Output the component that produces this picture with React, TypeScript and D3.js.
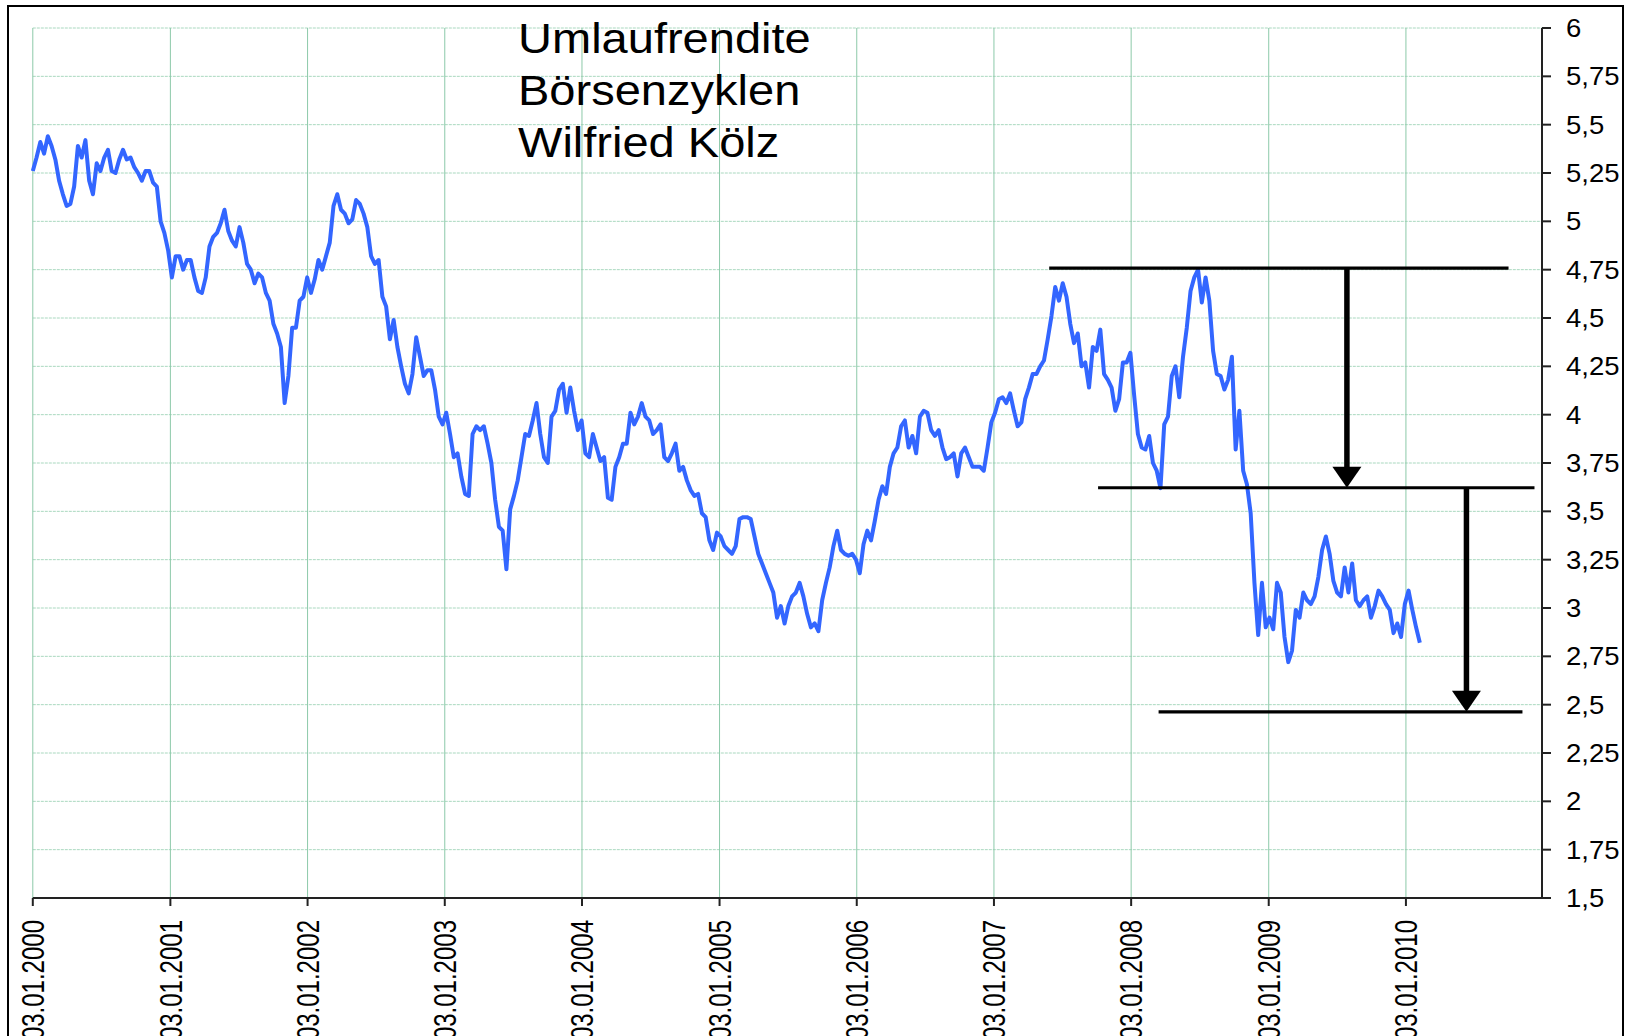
import React from "react";
import * as d3 from "d3";

// ---- data (10-day samples starting 03.01.2000) ----
const START_DATE = "2000-01-03";
const STEP_DAYS = 10;

const yield2000 = [5.26, 5.33, 5.41, 5.35, 5.44, 5.39, 5.32, 5.21, 5.14, 5.08, 5.09, 5.18, 5.39, 5.33, 5.42, 5.21, 5.14, 5.3, 5.26, 5.33, 5.37, 5.26, 5.25, 5.32, 5.37, 5.32, 5.33, 5.28, 5.25, 5.21, 5.26, 5.26, 5.2, 5.18, 5.0, 4.94, 4.85];
const yield2001 = [4.71, 4.82, 4.82, 4.75, 4.8, 4.8, 4.71, 4.64, 4.63, 4.71, 4.87, 4.92, 4.94, 4.99, 5.06, 4.95, 4.9, 4.87, 4.97, 4.89, 4.78, 4.75, 4.68, 4.73, 4.71, 4.63, 4.59, 4.47, 4.42, 4.35, 4.06, 4.2, 4.45, 4.45, 4.59, 4.61, 4.71];
const yield2002 = [4.63, 4.7, 4.8, 4.75, 4.82, 4.89, 5.08, 5.14, 5.06, 5.04, 4.99, 5.01, 5.11, 5.09, 5.04, 4.97, 4.82, 4.78, 4.8, 4.61, 4.56, 4.39, 4.49, 4.35, 4.25, 4.16, 4.11, 4.21, 4.4, 4.3, 4.2, 4.23, 4.23, 4.13, 3.99, 3.95];
const yield2003 = [4.01, 3.9, 3.78, 3.8, 3.68, 3.59, 3.58, 3.9, 3.94, 3.92, 3.94, 3.85, 3.75, 3.56, 3.42, 3.4, 3.2, 3.51, 3.58, 3.66, 3.78, 3.9, 3.89, 3.97, 4.06, 3.9, 3.78, 3.75, 3.99, 4.02, 4.13, 4.16, 4.01, 4.14, 4.02, 3.92, 3.97];
const yield2004 = [3.8, 3.78, 3.9, 3.83, 3.76, 3.78, 3.57, 3.56, 3.73, 3.78, 3.85, 3.85, 4.01, 3.95, 3.99, 4.06, 3.99, 3.97, 3.9, 3.92, 3.95, 3.78, 3.76, 3.8, 3.85, 3.71, 3.73, 3.66, 3.61, 3.58, 3.59, 3.49, 3.47, 3.35, 3.3, 3.39];
const yield2005 = [3.37, 3.32, 3.3, 3.28, 3.32, 3.46, 3.47, 3.47, 3.46, 3.37, 3.28, 3.23, 3.18, 3.13, 3.08, 2.95, 3.01, 2.92, 3.01, 3.06, 3.08, 3.13, 3.06, 2.97, 2.9, 2.92, 2.88, 3.04, 3.13, 3.21, 3.32, 3.4, 3.3, 3.28, 3.27, 3.28, 3.25];
const yield2006 = [3.18, 3.33, 3.4, 3.35, 3.45, 3.56, 3.63, 3.59, 3.73, 3.8, 3.83, 3.94, 3.97, 3.83, 3.89, 3.8, 3.99, 4.02, 4.01, 3.92, 3.89, 3.92, 3.83, 3.77, 3.78, 3.8, 3.68, 3.8, 3.83, 3.78, 3.73, 3.73, 3.73, 3.71, 3.83, 3.96];
const yield2007 = [4.01, 4.08, 4.09, 4.06, 4.11, 4.02, 3.94, 3.96, 4.08, 4.14, 4.21, 4.21, 4.25, 4.28, 4.39, 4.51, 4.66, 4.59, 4.68, 4.61, 4.47, 4.37, 4.42, 4.25, 4.27, 4.14, 4.35, 4.33, 4.44, 4.21, 4.18, 4.14, 4.02, 4.08, 4.27, 4.27, 4.32];
const yield2008 = [4.1, 3.9, 3.83, 3.82, 3.89, 3.75, 3.71, 3.62, 3.95, 3.99, 4.2, 4.25, 4.09, 4.3, 4.45, 4.64, 4.71, 4.75, 4.58, 4.71, 4.59, 4.33, 4.21, 4.2, 4.13, 4.18, 4.3, 3.82, 4.02, 3.71, 3.64, 3.49, 3.13, 2.86, 3.13, 2.9];
const yield2009 = [2.95, 2.89, 3.13, 3.08, 2.85, 2.72, 2.78, 2.99, 2.95, 3.08, 3.04, 3.02, 3.06, 3.16, 3.3, 3.37, 3.28, 3.14, 3.08, 3.06, 3.21, 3.08, 3.23, 3.04, 3.01, 3.04, 3.06, 2.95, 3.01, 3.09, 3.06, 3.02, 2.99, 2.87, 2.92, 2.85, 3.02];
const yield2010 = [3.09, 2.99, 2.9, 2.82];

const xTickLabels = ["03.01.2000", "03.01.2001", "03.01.2002", "03.01.2003", "03.01.2004", "03.01.2005", "03.01.2006", "03.01.2007", "03.01.2008", "03.01.2009", "03.01.2010"];
const yTicks = [1.5, 1.75, 2, 2.25, 2.5, 2.75, 3, 3.25, 3.5, 3.75, 4, 4.25, 4.5, 4.75, 5, 5.25, 5.5, 5.75, 6];
const yTickLabels = ["1,5", "1,75", "2", "2,25", "2,5", "2,75", "3", "3,25", "3,5", "3,75", "4", "4,25", "4,5", "4,75", "5", "5,25", "5,5", "5,75", "6"];

const titleLines = ["Umlaufrendite", "Börsenzyklen", "Wilfried Kölz"];

// annotation levels (date range, yield level) and arrows between them
const levelFrom = ["2007-05-30", "2007-10-07", "2008-03-16"];
const levelTo = ["2010-10-03", "2010-12-11", "2010-11-09"];
const levelValue = [4.758, 3.622, 2.463];
const arrowDate = ["2009-07-30", "2010-06-13"];
const arrowFrom = [4.758, 3.622];
const arrowTo = [3.622, 2.463];

const X_DOMAIN_END = "2010-12-31";

const FONT = "'Liberation Sans', Arial, Helvetica, sans-serif";

export default function App() {
  const W = 1634;
  const H = 1036;
  const left = 32.8;
  const right = 1542;
  const top = 28;
  const bottom = 898;

  const parseIso = d3.timeParse("%Y-%m-%d");
  const parseDe = d3.timeParse("%d.%m.%Y");
  const start = parseIso(START_DATE) as Date;

  const x = d3
    .scaleTime()
    .domain([start, parseIso(X_DOMAIN_END) as Date])
    .range([left, right]);
  const y = d3.scaleLinear().domain([1.5, 6]).range([bottom, top]);

  const values = [
    ...yield2000, ...yield2001, ...yield2002, ...yield2003, ...yield2004,
    ...yield2005, ...yield2006, ...yield2007, ...yield2008, ...yield2009, ...yield2010,
  ];
  const series: [Date, number][] = values.map((v, i) => [d3.timeDay.offset(start, i * STEP_DAYS), v]);

  const line = d3
    .line<[Date, number]>()
    .x((d) => x(d[0]))
    .y((d) => y(d[1]));

  const xTickDates = xTickLabels.map((s) => parseDe(s) as Date);

  const gridV = "#8cc9a9";
  const gridH = "#a9d8bf";

  return (
    <div style={{ position: "absolute", left: 0, top: 0, width: W, height: H, overflow: "hidden", background: "#fff" }}>
      <svg width={W} height={H} style={{ display: "block" }}>
        <rect x={0} y={0} width={W} height={H} fill="#fff" />
        {/* outer chart border */}
        <rect x={8} y={6} width={1615} height={1100} fill="none" stroke="#000" strokeWidth={2} />

        {/* horizontal gridlines */}
        {yTicks.filter((t) => t > 1.5).map((t) => (
          <line key={"gh" + t} x1={left} x2={right} y1={y(t)} y2={y(t)} stroke={gridH} strokeWidth={1} strokeDasharray="3 1" />
        ))}
        {/* vertical gridlines */}
        {xTickDates.map((d, i) => (
          <line key={"gv" + i} x1={x(d)} x2={x(d)} y1={top} y2={bottom} stroke={gridV} strokeWidth={1} />
        ))}

        {/* axes */}
        <line x1={right} x2={right} y1={top} y2={bottom} stroke="#222" strokeWidth={2} />
        <line x1={left} x2={right + 9} y1={bottom} y2={bottom} stroke="#222" strokeWidth={2} />
        {yTicks.map((t) => (
          <line key={"yt" + t} x1={right} x2={right + 9} y1={y(t)} y2={y(t)} stroke="#222" strokeWidth={2} />
        ))}
        {xTickDates.map((d, i) => (
          <line key={"xt" + i} x1={x(d)} x2={x(d)} y1={bottom} y2={bottom + 8} stroke="#222" strokeWidth={2} />
        ))}

        {/* y tick labels */}
        {yTicks.map((t, i) => (
          <text
            key={"yl" + t}
            transform={`translate(${right + 24},${y(t)}) scale(1.1,1)`}
            dy="0.36em"
            fontFamily={FONT}
            fontSize={25}
            fill="#000"
          >
            {yTickLabels[i]}
          </text>
        ))}

        {/* x tick labels */}
        {xTickDates.map((d, i) => (
          <text
            key={"xl" + i}
            transform={`translate(${x(d)},${bottom + 22}) rotate(-90) scale(1,1.3)`}
            dy="0.36em"
            textAnchor="end"
            fontFamily={FONT}
            fontSize={24}
            fill="#000"
          >
            {xTickLabels[i]}
          </text>
        ))}

        {/* data line */}
        <path d={line(series) || ""} fill="none" stroke="#3366ff" strokeWidth={4} strokeLinejoin="round" />

        {/* level lines */}
        {levelValue.map((v, i) => (
          <line
            key={"lv" + i}
            x1={x(parseIso(levelFrom[i]) as Date)}
            x2={x(parseIso(levelTo[i]) as Date)}
            y1={y(v)}
            y2={y(v)}
            stroke="#000"
            strokeWidth={3.2}
          />
        ))}

        {/* arrows */}
        {arrowDate.map((ds, i) => {
          const ax = x(parseIso(ds) as Date);
          const y0 = y(arrowFrom[i]);
          const y1 = y(arrowTo[i]);
          const hh = 21;
          const hw = 14.5;
          return (
            <g key={"ar" + i}>
              <line x1={ax} x2={ax} y1={y0} y2={y1 - hh + 1} stroke="#000" strokeWidth={5.5} />
              <polygon points={`${ax - hw},${y1 - hh} ${ax + hw},${y1 - hh} ${ax},${y1}`} fill="#000" />
            </g>
          );
        })}

        {/* title */}
        {titleLines.map((s, i) => (
          <text
            key={"t" + i}
            transform={`translate(518,${53.3 + i * 51.7}) scale(1.12,1)`}
            fontFamily={FONT}
            fontSize={42}
            fill="#000"
          >
            {s}
          </text>
        ))}
      </svg>
    </div>
  );
}
